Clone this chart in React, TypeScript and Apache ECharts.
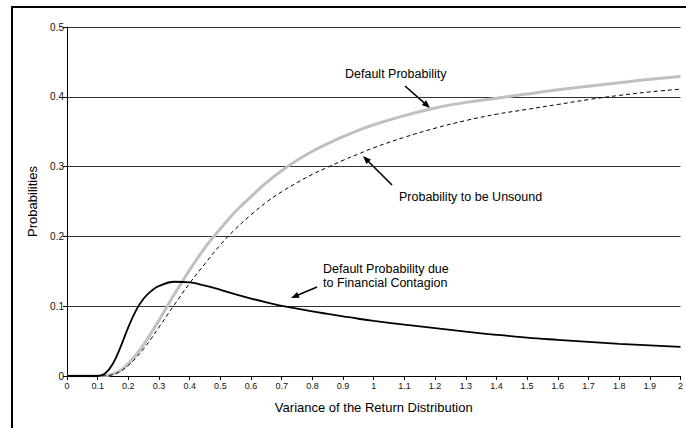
import React, { useEffect, useRef } from "react";
import * as echarts from "echarts";

const variance = [0, 0.05, 0.1, 0.125, 0.15, 0.175, 0.2, 0.225, 0.25, 0.275, 0.3, 0.35, 0.4, 0.45, 0.5, 0.55, 0.6, 0.65, 0.7, 0.75, 0.8, 0.85, 0.9, 0.95, 1.0, 1.1, 1.2, 1.3, 1.4, 1.5, 1.6, 1.7, 1.8, 1.9, 2.0];
const defaultProb = [0, 0, 0, 0.0005, 0.003, 0.008, 0.018, 0.03, 0.045, 0.062, 0.08, 0.117, 0.152, 0.184, 0.211, 0.236, 0.257, 0.277, 0.294, 0.309, 0.322, 0.333, 0.343, 0.352, 0.36, 0.373, 0.384, 0.392, 0.398, 0.404, 0.41, 0.415, 0.42, 0.425, 0.429];
const unsoundProb = [0, 0, 0, 0.0003, 0.002, 0.007, 0.015, 0.026, 0.039, 0.054, 0.07, 0.102, 0.133, 0.161, 0.188, 0.211, 0.231, 0.249, 0.264, 0.277, 0.289, 0.299, 0.309, 0.318, 0.327, 0.342, 0.355, 0.366, 0.375, 0.382, 0.389, 0.396, 0.402, 0.407, 0.411];
const contagionProb = [0, 0, 0, 0.004, 0.018, 0.042, 0.07, 0.094, 0.111, 0.122, 0.129, 0.135, 0.134, 0.1295, 0.1235, 0.117, 0.111, 0.1055, 0.1005, 0.0965, 0.0925, 0.089, 0.0855, 0.082, 0.079, 0.0735, 0.0685, 0.0635, 0.059, 0.055, 0.0518, 0.0488, 0.046, 0.0438, 0.0418];

const FONT = "'Liberation Sans', Arial, sans-serif";

function pairs(ys: number[]) {
  return variance.map((x, i) => [x, ys[i]]);
}

function arrow(sx: number, sy: number, ex: number, ey: number) {
  const dx = ex - sx;
  const dy = ey - sy;
  const len = Math.sqrt(dx * dx + dy * dy);
  const ux = dx / len;
  const uy = dy / len;
  const L = 8;
  const W = 3.2;
  const bx = ex - ux * L;
  const by = ey - uy * L;
  return [
    { type: "line", shape: { x1: sx, y1: sy, x2: bx + ux * 1, y2: by + uy * 1 }, style: { stroke: "#000", lineWidth: 1.6 } },
    {
      type: "polygon",
      shape: { points: [[ex, ey], [bx - uy * W, by + ux * W], [bx + uy * W, by - ux * W]] },
      style: { fill: "#000" },
    },
  ];
}

export default function App() {
  const ref = useRef<HTMLDivElement>(null);
  useEffect(() => {
    if (!ref.current) return;
    const chart = echarts.init(ref.current, null, { renderer: "svg" });
    const textStyle = (t: string, x: number, y: number) => ({
      type: "text",
      x,
      y,
      style: { text: t, fill: "#000", font: `12.5px ${FONT}`, verticalAlign: "middle", align: "left" },
    });
    chart.setOption({
      animation: false,
      backgroundColor: "#fff",
      grid: { left: 67, top: 27, right: 3, bottom: 52, containLabel: false },
      xAxis: {
        type: "value",
        min: 0,
        max: 2,
        interval: 0.1,
        name: "Variance of the Return Distribution",
        nameLocation: "middle",
        nameGap: 25,
        nameTextStyle: { color: "#000", fontSize: 13, fontFamily: FONT },
        axisLine: { show: true, onZero: false, lineStyle: { color: "#000", width: 1 } },
        axisTick: { show: true, length: 4, lineStyle: { color: "#000" } },
        axisLabel: { color: "#111", fontSize: 9, fontFamily: FONT, margin: 5, showMaxLabel: true, showMinLabel: true },
        splitLine: { show: false },
      },
      yAxis: {
        type: "value",
        min: 0,
        max: 0.5,
        interval: 0.1,
        name: "Probabilities",
        nameLocation: "middle",
        nameGap: 28,
        nameTextStyle: { color: "#000", fontSize: 13, fontFamily: FONT },
        axisLine: { show: true, lineStyle: { color: "#000", width: 1 } },
        axisTick: { show: true, length: 4, lineStyle: { color: "#000" } },
        axisLabel: { color: "#111", fontSize: 10, fontFamily: FONT, margin: 3 },
        splitLine: { show: true, lineStyle: { color: "#333", width: 1 } },
      },
      series: [
        {
          name: "Default Probability",
          type: "line",
          data: pairs(defaultProb),
          smooth: 0.4,
          showSymbol: false,
          lineStyle: { color: "#c0c0c0", width: 3 },
          z: 2,
        },
        {
          name: "Probability to be Unsound",
          type: "line",
          data: pairs(unsoundProb),
          smooth: 0.4,
          showSymbol: false,
          lineStyle: { color: "#000", width: 1, type: [4, 3] },
          z: 3,
        },
        {
          name: "Default Probability due to Financial Contagion",
          type: "line",
          data: pairs(contagionProb),
          smooth: 0.4,
          showSymbol: false,
          lineStyle: { color: "#000", width: 1.8 },
          z: 4,
        },
      ],
      graphic: [
        { type: "rect", shape: { x: 12, y: 7, width: 720, height: 460 }, style: { fill: "none", stroke: "#000", lineWidth: 2 }, z: 10 },
        textStyle("Default Probability", 345, 74),
        textStyle("Probability to be Unsound", 399, 197),
        textStyle("Default Probability due", 323, 269),
        textStyle("to Financial Contagion", 323, 283),
        ...arrow(405, 86, 430, 108),
        ...arrow(392, 185, 363, 156),
        ...arrow(317, 287, 291, 298),
      ],
    });
    return () => chart.dispose();
  }, []);
  return <div ref={ref} style={{ position: "fixed", left: 0, top: 0, width: 686, height: 428 }} />;
}
